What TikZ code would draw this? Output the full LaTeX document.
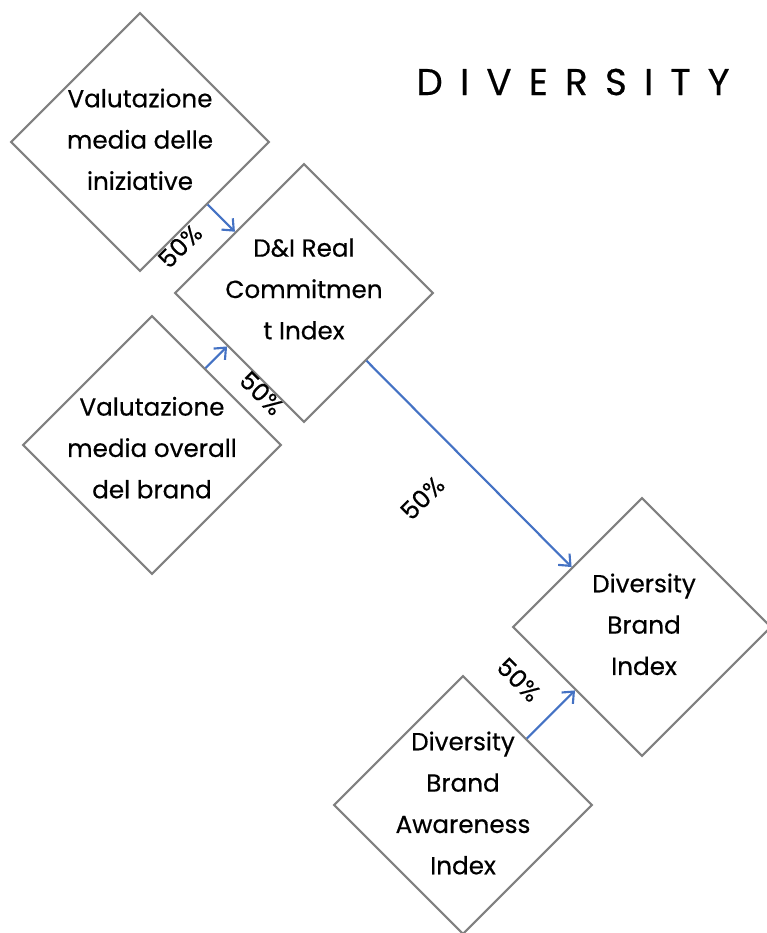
\documentclass[tikz,border=0pt]{standalone}
\usepackage{fontspec}
\setmainfont{Poppins}[FakeBold=0.4]
\newfontfamily\titlefont[LetterSpace=46,FakeBold=0.4]{Poppins}
\usetikzlibrary{shapes.geometric,arrows.meta,calc}
\definecolor{boxgray}{RGB}{128,128,128}
\definecolor{flowblue}{RGB}{68,114,196}

\begin{document}
\begin{tikzpicture}[x=0.75pt,y=-0.75pt,
  dia/.style={diamond, draw=boxgray, line width=1.6pt, minimum width=194pt, minimum height=194pt, inner sep=0pt},
  txt/.style={align=center, font=\fontsize{18.5}{31}\selectfont},
  flow/.style={flowblue, line width=1.6pt, -{Straight Barb[length=7pt,width=12pt]}},
  pct/.style={black, font=\fontsize{18.5}{18.5}\selectfont}]
\useasboundingbox (0,0) rectangle (767,933);
\clip (0,0) rectangle (767,933);
\node[font=\titlefont\fontsize{28}{28}\selectfont] (title) at (573,82) {DIVERSITY};
\node[dia] (vmi) at (140,142) {};
\node[dia] (dci) at (304,293) {};
\node[dia] (vmo) at (152,445) {};
\node[dia] (dbi) at (642,627) {};
\node[dia] (dba) at (463,805) {};
\node[txt,yshift=2pt] (vmi-t) at (vmi) {Valutazione\\media delle\\iniziative};
\node[txt,yshift=3pt] (dci-t) at (dci) {D\&I Real\\Commitmen\\t Index};
\node[txt,yshift=-2pt] (vmo-t) at (vmo) {Valutazione\\media overall\\del brand};
\node[txt,yshift=2pt,xshift=1.5pt] (dbi-t) at (dbi) {Diversity\\Brand\\Index};
\node[txt,yshift=1.5pt] (dba-t) at (dba) {Diversity\\Brand\\Awareness\\Index};
\coordinate (a1) at ($(vmi.east)!0.48!(vmi.south)$);
\coordinate (a2) at ($(vmo.north)!0.41!(vmo.east)$);
\coordinate (a3) at ($(dci.east)!0.52!(dci.south)$);
\coordinate (a4) at ($(dba.north)!0.49!(dba.east)$);
\draw[flow] (a1) -- ($(dci.west)!(a1)!(dci.north)$) node[pct,midway,xshift=-31pt,yshift=-21pt,rotate=45]{50\%};
\draw[flow] (a2) -- ($(dci.west)!(a2)!(dci.south)$) node[pct,midway,xshift=34pt,yshift=-27pt,rotate=-45]{50\%};
\draw[flow] (a3) -- ($(dbi.west)!0.46!(dbi.north)$) node[pct,midway,xshift=-35pt,yshift=-25.5pt,rotate=45]{50\%};
\draw[flow] (a4) -- ($(dbi.west)!(a4)!(dbi.south)$) node[pct,midway,xshift=-24pt,yshift=26pt,rotate=-45]{50\%};
\end{tikzpicture}
\end{document}
